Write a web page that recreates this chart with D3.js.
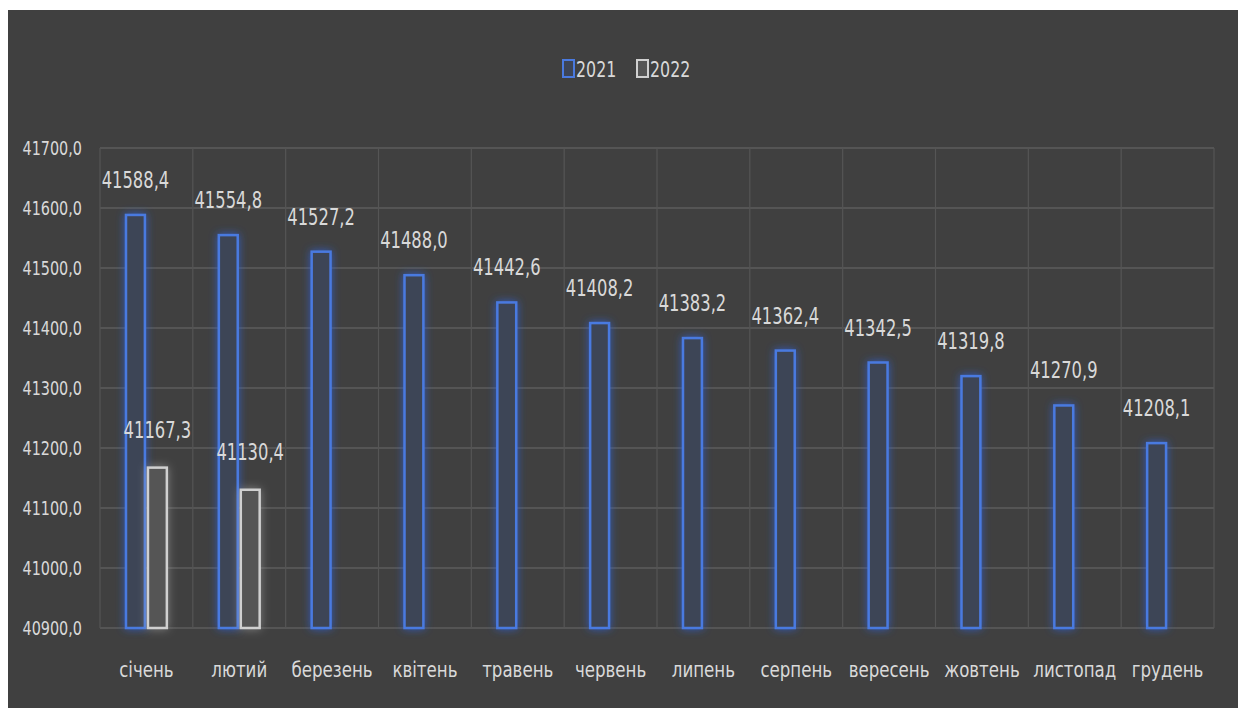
<!DOCTYPE html>
<html>
<head>
<meta charset="utf-8">
<script src="https://cdn.jsdelivr.net/npm/d3@7"></script>
<style>
  html, body { margin: 0; padding: 0; background: #ffffff; }
  svg { display: block; }
</style>
</head>
<body>
<div class="container"></div>
<script>
// data
var months = ["січень", "лютий", "березень", "квітень", "травень", "червень",
              "липень", "серпень", "вересень", "жовтень", "листопад", "грудень"];
var values2021 = [41588.4, 41554.8, 41527.2, 41488.0, 41442.6, 41408.2,
                  41383.2, 41362.4, 41342.5, 41319.8, 41270.9, 41208.1];
var values2022 = [41167.3, 41130.4];
var seriesNames = ["2021", "2022"];
var yTicks = [40900, 41000, 41100, 41200, 41300, 41400, 41500, 41600, 41700];

var W = 1238, H = 710;
var font = "'DejaVu Sans Condensed', 'DejaVu Sans', sans-serif";
var textColor = "#d9d9d9";

function fmt(v) {
    return v.toFixed(1).replace(".", ",");
}

// squeeze text sideways, the original font is a tall narrow one
function squeeze(sel, k) {
    sel.each(function() {
        var w = this.getComputedTextLength();
        d3.select(this).attr("textLength", w * k).attr("lengthAdjust", "spacingAndGlyphs");
    });
}

//Makes the stage
function makeStage(w, h) {
    var svg = d3.select(".container")
      .append("svg")
      .attr("width", w)
      .attr("height", h);
    svg.append("rect")
      .attr("x", 8).attr("y", 10)
      .attr("width", w - 8).attr("height", h - 12)
      .attr("fill", "#404040");
    return svg;
}

var stage = makeStage(W, H);

// glow filters
var defs = stage.append("defs");
function makeGlow(id, color, dev, op) {
    var f = defs.append("filter").attr("id", id)
      .attr("x", "-80%").attr("y", "-20%").attr("width", "260%").attr("height", "140%");
    f.append("feGaussianBlur").attr("in", "SourceAlpha").attr("stdDeviation", dev).attr("result", "b");
    f.append("feFlood").attr("flood-color", color).attr("flood-opacity", op);
    f.append("feComposite").attr("in2", "b").attr("operator", "in").attr("result", "g");
    var m = f.append("feMerge");
    m.append("feMergeNode").attr("in", "g");
    m.append("feMergeNode").attr("in", "SourceGraphic");
}
makeGlow("glowBlue", "#2f5fd0", 4, 0.85);
makeGlow("glowGray", "#a8a8a8", 5, 0.6);

var x = d3.scaleBand().domain(months).range([100, 1214]).padding(0);
var y = d3.scaleLinear().domain([40900, 41700]).range([628, 148]);
var sub = d3.scaleBand().domain(seriesNames)
    .range([26, x.bandwidth() - 26]).paddingInner(0.14);

// grid
var grid = stage.append("g");
grid.selectAll("line.h").data(yTicks).enter().append("line")
  .attr("x1", 100).attr("x2", 1214)
  .attr("y1", function(d) { return y(d); })
  .attr("y2", function(d) { return y(d); })
  .attr("stroke", "#5c5c5c").attr("stroke-width", 1.5);
grid.selectAll("line.v").data(months.concat(["end"])).enter().append("line")
  .attr("x1", function(d, i) { return 100 + i * x.step(); })
  .attr("x2", function(d, i) { return 100 + i * x.step(); })
  .attr("y1", y(41700)).attr("y2", y(40900))
  .attr("stroke", "#555555").attr("stroke-width", 1.2);

// y axis labels
var yAxis = d3.axisLeft(y).tickValues(yTicks).tickFormat(fmt).tickSize(0).tickPadding(18);
var yg = stage.append("g").attr("transform", "translate(100,0)").call(yAxis);
yg.select(".domain").remove();
yg.selectAll("text")
  .attr("fill", textColor).attr("font-family", font).attr("font-size", 20);
squeeze(yg.selectAll("text"), 0.8);

// x axis labels
var xAxis = d3.axisBottom(x).tickSize(0).tickPadding(34);
var xg = stage.append("g").attr("transform", "translate(0," + y(40900) + ")").call(xAxis);
xg.select(".domain").remove();
xg.selectAll("text")
  .attr("fill", textColor).attr("font-family", font).attr("font-size", 21);
squeeze(xg.selectAll("text"), 0.88);

// bars
var data2021 = months.map(function(m, i) { return {m: m, v: values2021[i]}; });
var data2022 = values2022.map(function(v, i) { return {m: months[i], v: v}; });

function drawSeries(data, name, stroke, fill, filter, labelGap) {
    var g = stage.append("g");
    g.selectAll("rect").data(data).enter().append("rect")
      .attr("x", function(d) { return x(d.m) + sub(name); })
      .attr("y", function(d) { return y(d.v); })
      .attr("width", sub.bandwidth())
      .attr("height", function(d) { return y(40900) - y(d.v); })
      .attr("fill", fill)
      .attr("stroke", stroke)
      .attr("stroke-width", 2.5)
      .attr("filter", "url(#" + filter + ")");
    var t = g.selectAll("text").data(data).enter().append("text")
      .text(function(d) { return fmt(d.v); })
      .attr("x", function(d) { return x(d.m) + sub(name) + sub.bandwidth() / 2; })
      .attr("y", function(d) { return y(d.v) - labelGap; })
      .attr("text-anchor", "middle")
      .attr("font-family", font)
      .attr("font-size", 23)
      .attr("fill", textColor);
    squeeze(t, 0.79);
}
drawSeries(data2021, "2021", "#4a7ae0", "#3d4557", "glowBlue", 27);
drawSeries(data2022, "2022", "#d0d0d0", "#555555", "glowGray", 30);

// legend
var legend = stage.append("g").attr("transform", "translate(562,57)");
var legendColors = {"2021": ["#4a7ae0", "#3d4557"], "2022": ["#d0d0d0", "#555555"]};
var lx = 0;
seriesNames.forEach(function(s) {
    legend.append("rect").attr("x", lx + 1).attr("y", 3)
      .attr("width", 11).attr("height", 17)
      .attr("fill", legendColors[s][1]).attr("stroke", legendColors[s][0]).attr("stroke-width", 2);
    var t = legend.append("text").text(s)
      .attr("x", lx + 14).attr("y", 20)
      .attr("font-family", font).attr("font-size", 22)
      .attr("fill", textColor);
    squeeze(t, 0.8);
    lx += 74;
});
</script>
</body>
</html>
